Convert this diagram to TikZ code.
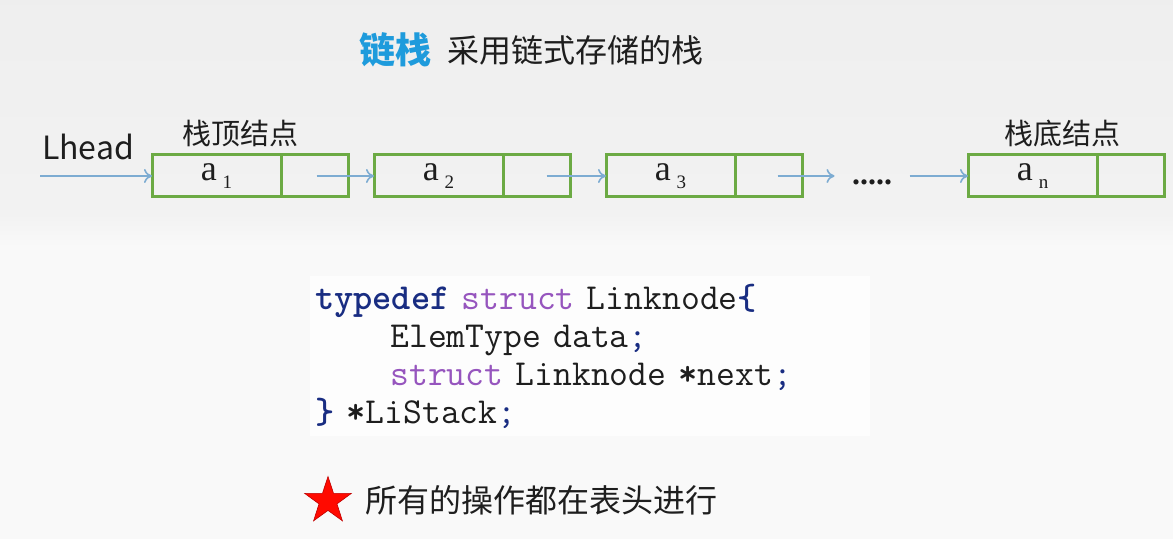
\documentclass[tikz,border=0pt]{standalone}
\usepackage{fontspec}
\setmainfont{Liberation Serif}
\newfontfamily\cjk{Noto Sans CJK SC}
\usetikzlibrary{arrows.meta,shapes.geometric}
\definecolor{boxgreen}{RGB}{108,170,68}
\definecolor{linkblue}{RGB}{125,172,210}
\definecolor{titleblue}{RGB}{30,155,220}
\definecolor{kwnavy}{RGB}{25,45,130}
\definecolor{kwpurple}{RGB}{150,85,190}
\definecolor{inkgray}{RGB}{30,30,30}
\newcommand{\elem}[1]{a\,\raisebox{-4pt}{\fontsize{9.5}{9.5}\selectfont #1}}
\tikzstyle{every node}=[inner sep=0pt, outer sep=0pt, text=inkgray]
\tikzset{cell/.style={draw=boxgreen, line width=1.5pt, minimum height=21pt,
      font=\fontsize{18}{18}\selectfont}}
\tikzset{datacell/.style={cell, minimum width=64.5pt}}
\tikzset{ptrcell/.style={cell, minimum width=33.5pt}}
\tikzset{link/.style={draw=linkblue, line width=0.8pt, -{To[length=4pt,width=7pt]}}}
\tikzset{cjktext/.style={font=\cjk\fontsize{16}{16}\selectfont}}

\begin{document}
\begin{tikzpicture}[x=0.5pt,y=-0.5pt]
    \fill[gray!5] (0,0) rectangle (1173,539);
    \shade[top color=gray!13, bottom color=gray!10] (0,0) rectangle (1173,215);
    \shade[top color=gray!10, bottom color=gray!5] (0,215) rectangle (1173,245);
    \useasboundingbox (0,0) rectangle (1173,539);
    \node[anchor=west, font=\cjk\bfseries\fontsize{18}{18}\selectfont, text=titleblue] (title) at (359,50) {链栈};
    \node[anchor=west, cjktext] (subtitle) at (447,50) {采用链式存储的栈};
    \node[anchor=west, cjktext] (lhead) at (42,147) {Lhead};
    \node[cjktext, font=\cjk\fontsize{14.5}{14.5}\selectfont] (toplabel) at (240,133) {栈顶结点};
    \node[cjktext, font=\cjk\fontsize{14.5}{14.5}\selectfont] (bottomlabel) at (1062,133) {栈底结点};
    \coordinate (start) at (40,176);
    \node[datacell, anchor=west] (d1) at (152,176) {\elem{1}};
    \node[ptrcell, anchor=west] (p1) at (d1.east) {};
    \node[datacell, anchor=west] (d2) at (374,176) {\elem{2}};
    \node[ptrcell, anchor=west] (p2) at (d2.east) {};
    \node[datacell, anchor=west] (d3) at (606,176) {\elem{3}};
    \node[ptrcell, anchor=west] (p3) at (d3.east) {};
    \node[datacell, anchor=west] (dn) at (968,176) {\elem{n}};
    \node[ptrcell, anchor=west] (pn) at (dn.east) {};
    \node[minimum width=37.5pt, font=\bfseries\fontsize{16}{16}\selectfont] (dots) at (872,176) {\raisebox{-9pt}{.....}};
    \draw[link] (start) -- (d1);
    \draw[link] (p1.center) ++(2,0) -- (d2);
    \draw[link] (p2.center) ++(10,0) -- (d3);
    \draw[link] (p3.center) ++(9,0) -- (dots);
    \draw[link] (dots) -- (dn);
    \node[anchor=north west, text width=275pt, inner xsep=2.5pt, inner ysep=4pt, fill=gray!1.5,
      font=\ttfamily\fontsize{18.3}{19}\selectfont] (code) at (310,276) {%
      {\color{kwnavy}\bfseries typedef} {\color{kwpurple}struct} Linknode{\color{kwnavy}\bfseries\{}\\
      \phantom{xxxx}ElemType data{\color{kwnavy};}\\
      \phantom{xxxx}{\color{kwpurple}struct} Linknode {\bfseries*}next{\color{kwnavy};}\\
      {\color{kwnavy}\bfseries\}} {\bfseries*}LiStack{\color{kwnavy};}};
    \node[star, star points=5, star point ratio=2.6, fill=red!92!orange, draw=red!75!black,
      line width=0.3pt, minimum size=24.5pt] (star) at (328,501) {};
    \node[anchor=west, cjktext] (note) at (365,500) {所有的操作都在表头进行};
\end{tikzpicture}
\end{document}
